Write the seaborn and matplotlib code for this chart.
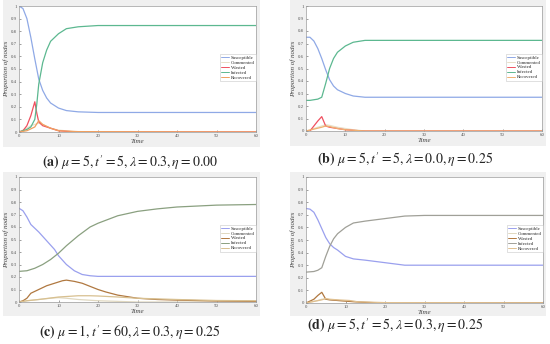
import numpy as np
import pandas as pd
import matplotlib
matplotlib.use("Agg")
import matplotlib.pyplot as plt
import seaborn as sns

sns.set_theme(style="white")
plt.rcParams['font.family'] = ['Liberation Serif', 'DejaVu Serif']
plt.rcParams['mathtext.fontset'] = 'stix'

series_names = ["Susceptible", "Commented", "Wasted", "Infected", "Recovered"]

# ---- Panel (a) ----
a_S_t = [0, 1, 2, 3, 4, 5, 6, 7, 8, 10, 12, 15, 20, 60]
a_S_v = [1.0, 0.98, 0.9, 0.75, 0.58, 0.42, 0.33, 0.27, 0.23, 0.19, 0.17, 0.16, 0.155, 0.155]
a_C_t = [0, 2, 3, 4, 5, 6, 8, 10, 15, 60]
a_C_v = [0, 0.03, 0.05, 0.06, 0.07, 0.06, 0.03, 0.015, 0.0, 0.0]
a_W_t = [0, 1, 2, 3, 4, 4.5, 5, 6, 8, 10, 12, 15, 60]
a_W_v = [0, 0.01, 0.05, 0.13, 0.24, 0.15, 0.08, 0.05, 0.03, 0.01, 0.005, 0.0, 0.0]
a_I_t = [0, 2, 3, 4, 4.5, 5, 6, 7, 8, 10, 12, 15, 20, 60]
a_I_v = [0, 0.02, 0.04, 0.1, 0.22, 0.38, 0.55, 0.65, 0.72, 0.78, 0.82, 0.835, 0.845, 0.845]
a_R_t = [0, 2, 4, 5, 6, 8, 10, 15, 60]
a_R_v = [0, 0.01, 0.04, 0.09, 0.06, 0.03, 0.01, 0.003, 0.0]

# ---- Panel (b) ----
b_S_t = [0, 1, 2, 3, 4, 5, 6, 7, 8, 10, 12, 15, 60]
b_S_v = [0.75, 0.75, 0.72, 0.66, 0.58, 0.49, 0.41, 0.36, 0.33, 0.30, 0.28, 0.27, 0.27]
b_C_t = [0, 3, 4, 5, 6, 8, 10, 12, 15, 60]
b_C_v = [0, 0.03, 0.04, 0.05, 0.045, 0.03, 0.02, 0.01, 0.0, 0.0]
b_W_t = [0, 1, 2, 3, 4, 5, 6, 8, 10, 12, 15, 60]
b_W_v = [0, 0, 0.04, 0.08, 0.115, 0.04, 0.03, 0.02, 0.01, 0.005, 0.0, 0.0]
b_I_t = [0, 1, 2, 3, 4, 5, 6, 7, 8, 10, 12, 15, 60]
b_I_v = [0.245, 0.245, 0.25, 0.255, 0.27, 0.38, 0.5, 0.58, 0.63, 0.68, 0.71, 0.725, 0.725]
b_R_t = [0, 4, 5, 6, 8, 10, 15, 60]
b_R_v = [0, 0.03, 0.04, 0.035, 0.02, 0.01, 0.0, 0.0]

# ---- Panel (c) ----
c_S_t = [0, 1, 2, 3, 5, 7, 9, 10, 12, 14, 16, 18, 20, 60]
c_S_v = [0.75, 0.73, 0.68, 0.62, 0.56, 0.49, 0.42, 0.37, 0.30, 0.25, 0.22, 0.21, 0.205, 0.205]
c_C_t = [0, 2, 5, 8, 10, 12, 15, 20, 25, 30, 60]
c_C_v = [0, 0.01, 0.02, 0.03, 0.035, 0.03, 0.02, 0.01, 0.005, 0.0, 0.0]
c_W_t = [0, 1, 2, 3, 5, 7, 9, 11, 12, 14, 16, 18, 20, 22, 25, 30, 35, 40, 50, 60]
c_W_v = [0, 0.01, 0.03, 0.07, 0.10, 0.13, 0.15, 0.17, 0.175, 0.165, 0.15, 0.125, 0.10, 0.08,
         0.055, 0.03, 0.02, 0.015, 0.008, 0.005]
c_I_t = [0, 2, 4, 6, 8, 10, 12, 15, 18, 20, 25, 30, 35, 40, 50, 60]
c_I_v = [0.245, 0.25, 0.27, 0.3, 0.34, 0.39, 0.45, 0.53, 0.6, 0.63, 0.69, 0.725, 0.745, 0.76,
         0.775, 0.78]
c_R_t = [0, 2, 5, 10, 15, 18, 20, 25, 30, 40, 50, 60]
c_R_v = [0, 0.01, 0.02, 0.04, 0.05, 0.05, 0.048, 0.04, 0.03, 0.02, 0.012, 0.01]

# ---- Panel (d) ----
d_S_t = [0, 1, 2, 3, 4, 5, 6, 7, 8, 10, 12, 15, 20, 25, 30, 60]
d_S_v = [0.75, 0.745, 0.72, 0.66, 0.59, 0.52, 0.47, 0.44, 0.42, 0.37, 0.35, 0.34, 0.32, 0.30,
         0.30, 0.30]
d_C_t = [0, 3, 4, 5, 8, 11, 15, 20, 60]
d_C_v = [0, 0.02, 0.03, 0.03, 0.02, 0.015, 0.005, 0.0, 0.0]
d_W_t = [0, 2, 3, 4, 5, 6, 8, 10, 12, 15, 20, 60]
d_W_v = [0, 0.03, 0.06, 0.085, 0.03, 0.025, 0.02, 0.015, 0.01, 0.005, 0.0, 0.0]
d_I_t = [0, 2, 3, 4, 5, 6, 7, 8, 10, 12, 15, 20, 25, 30, 60]
d_I_v = [0.245, 0.25, 0.26, 0.28, 0.37, 0.45, 0.51, 0.55, 0.6, 0.635, 0.65, 0.67, 0.69, 0.695,
         0.695]
d_R_t = [0, 4, 5, 6, 8, 11, 13, 20, 60]
d_R_v = [0, 0.025, 0.035, 0.03, 0.025, 0.02, 0.01, 0.003, 0.0]

captions = [
    (r"$\mathbf{(a)}$", r" $\mu = 5, t' = 5, \lambda = 0.3, \eta = 0.00$"),
    (r"$\mathbf{(b)}$", r" $\mu = 5, t' = 5, \lambda = 0.0, \eta = 0.25$"),
    (r"$\mathbf{(c)}$", r" $\mu = 1, t' = 60, \lambda = 0.3, \eta = 0.25$"),
    (r"$\mathbf{(d)}$", r" $\mu = 5, t' = 5, \lambda = 0.3, \eta = 0.25$"),
]

palettes = [
    ["#8fa9e6", "#e8e0c8", "#f05060", "#5cb890", "#f0a060"],
    ["#8fa9e6", "#e8e0c8", "#f05060", "#5cb890", "#f0b070"],
    ["#9aa0ee", "#e0d8c0", "#b07840", "#8aa080", "#d8c090"],
    ["#9aa0ee", "#e0d8c0", "#b07840", "#a0a098", "#e0c090"],
]

panels = [
    [(a_S_t, a_S_v), (a_C_t, a_C_v), (a_W_t, a_W_v), (a_I_t, a_I_v), (a_R_t, a_R_v)],
    [(b_S_t, b_S_v), (b_C_t, b_C_v), (b_W_t, b_W_v), (b_I_t, b_I_v), (b_R_t, b_R_v)],
    [(c_S_t, c_S_v), (c_C_t, c_C_v), (c_W_t, c_W_v), (c_I_t, c_I_v), (c_R_t, c_R_v)],
    [(d_S_t, d_S_v), (d_C_t, d_C_v), (d_W_t, d_W_v), (d_I_t, d_I_v), (d_R_t, d_R_v)],
]

W, H = 550, 344
fig = plt.figure(figsize=(5.5, 3.44), dpi=100)
fig.patch.set_facecolor("white")

# pixel boxes
gray_boxes = [(3, 0, 260, 147), (290, 0, 546, 146), (3, 172, 260, 316), (290, 172, 546, 316)]
ax_boxes = [(19, 6, 256, 132), (306, 6, 542, 131), (19, 177, 256, 302), (306, 177, 543, 303)]
cap_pos = [(130, 163), (405, 160), (130, 333), (395, 326)]

for gb in gray_boxes:
    x0, y0, x1, y1 = gb
    bg = fig.add_axes([x0 / W, 1 - y1 / H, (x1 - x0) / W, (y1 - y0) / H], zorder=-5)
    bg.set_facecolor("#f0f0f0")
    bg.set_xticks([])
    bg.set_yticks([])
    for sp in bg.spines.values():
        sp.set_visible(False)

for i in range(4):
    x0, y0, x1, y1 = ax_boxes[i]
    ax = fig.add_axes([x0 / W, 1 - y1 / H, (x1 - x0) / W, (y1 - y0) / H], zorder=1)
    ax.set_facecolor("white")
    rows = []
    for name, (t, v) in zip(series_names, panels[i]):
        for tt, vv in zip(t, v):
            rows.append({"Time": tt, "value": vv, "series": name})
    df = pd.DataFrame(rows)
    sns.lineplot(data=df, x="Time", y="value", hue="series", hue_order=series_names,
                 palette=palettes[i], ax=ax, linewidth=0.9, estimator=None, sort=False)
    ax.set_xlim(0, 60)
    ax.set_ylim(0, 1)
    ax.set_xticks(np.arange(0, 61, 10))
    ax.set_yticks(np.round(np.arange(0, 1.01, 0.1), 1))
    ax.set_yticklabels(["0"] + [f"{v:.1f}" for v in np.arange(0.1, 0.95, 0.1)] + ["1"])
    ax.tick_params(axis="both", labelsize=3.5, colors="#555555", length=1.5, width=0.4,
                   direction="in", pad=1.5, left=True, bottom=True)
    for sp in ax.spines.values():
        sp.set_color("#9a9a9a")
        sp.set_linewidth(0.5)
    ax.set_xlabel("Time", fontsize=5, style="italic", color="#444444", labelpad=0.5)
    ax.set_ylabel("Proportion of nodes", fontsize=5, style="italic", color="#444444",
                  labelpad=1)
    sns.move_legend(ax, loc="center right", bbox_to_anchor=(1.0, 0.51), fontsize=3.5,
                    title=None, frameon=True, fancybox=False, borderpad=0.3,
                    handlelength=1.5, labelspacing=0.1, handletextpad=0.4,
                    borderaxespad=0)
    leg = ax.get_legend()
    leg.get_frame().set_edgecolor("#bbbbbb")
    leg.get_frame().set_linewidth(0.4)
    for line in leg.get_lines():
        line.set_linewidth(0.7)
    cx, cy = cap_pos[i]
    bold, rest = captions[i]
    fig.text(cx / W, 1 - cy / H, bold + rest, ha="center", va="center", fontsize=10)

fig.savefig("out.png", dpi=100)
